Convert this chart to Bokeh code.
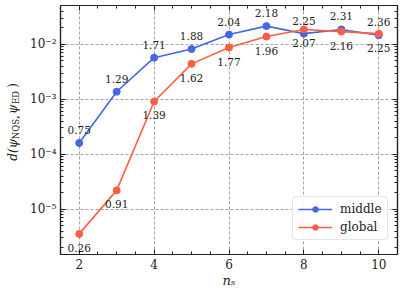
import math
from bokeh.plotting import figure
from bokeh.layouts import row
from bokeh.models import (FixedTicker, CustomJSTickFormatter, LinearAxis, LogAxis,
                          Legend, LegendItem, Range1d)
from bokeh.embed import file_html
from bokeh.resources import INLINE
from bokeh.core.properties import value

# ---------------- data ----------------
n_s = [2, 3, 4, 5, 6, 7, 8, 9, 10]
middle_d = [1.6e-4, 1.37e-3, 5.7e-3, 8.2e-3, 1.50e-2, 2.14e-2, 1.56e-2, 1.86e-2, 1.46e-2]
global_d = [3.56e-6, 2.2e-5, 9.1e-4, 4.4e-3, 8.7e-3, 1.38e-2, 1.86e-2, 1.70e-2, 1.56e-2]
middle_labels = ["0.75", "1.29", "1.71", "1.88", "2.04", "2.18", "2.25", "2.31", "2.36"]
global_labels = ["0.26", "0.91", "1.39", "1.62", "1.77", "1.96", "2.07", "2.16", "2.25"]
x_major = [2, 4, 6, 8, 10]
x_minor = [1.5 + 0.5 * i for i in range(19)]
y_major = [1e-5, 1e-4, 1e-3, 1e-2]
y_minor = [k * 10.0 ** e for e in range(-6, -1) for k in range(2, 10)]

# y-axis title pieces
ylab_text = ["d(\u03c8", "NQS", ",", "\u03c8", "ED", ")"]
ylab_size = ["12px", "8.5px", "12px", "12px", "8.5px", "12px"]
ylab_style = ["italic", "normal", "normal", "italic", "normal", "normal"]
ylab_sub = [False, True, False, False, True, False]

BLUE = "#4169E1"
RED = "#FF5E44"
FONT = "DejaVu Serif"
INK = "#222222"

# ---------------- y title strip ----------------
LW = 20
lab_fig = figure(width=LW, height=290, x_range=Range1d(0, LW), y_range=Range1d(290, 0),
                 output_backend="svg", toolbar_location=None,
                 min_border=0, outline_line_color=None)
lab_fig.axis.visible = False
lab_fig.grid.visible = False
centers = [168, 144, 130, 121, 107, 93]   # pixel rows of each piece's centre
for t, s, st, sub, yc in zip(ylab_text, ylab_size, ylab_style, ylab_sub, centers):
    lab_fig.text(x=[15 if sub else 12], y=[yc], text=[t], angle=math.pi / 2,
                 text_font=value(FONT), text_font_size=s, text_font_style=st,
                 text_align="center", text_baseline="middle", text_color=INK)

# ---------------- main plot ----------------
p = figure(width=399 - LW, height=290, y_axis_type="log",
           x_range=Range1d(1.5, 10.5), y_range=Range1d(1.501e-6, 5.07e-2),
           output_backend="svg", toolbar_location=None,
           min_border_left=60 - LW, min_border_right=2, min_border_top=5, min_border_bottom=35)
p.background_fill_color = "white"
p.border_fill_color = "white"
p.outline_line_color = INK
p.outline_line_width = 1.2

sup_fmt = CustomJSTickFormatter(code="""
const e = Math.round(Math.log10(tick));
const sup = {'-':'\u207b','0':'\u2070','1':'\u00b9','2':'\u00b2','3':'\u00b3','4':'\u2074','5':'\u2075','6':'\u2076','7':'\u2077','8':'\u2078','9':'\u2079'};
return '10' + String(e).split('').map(c => sup[c]).join('');
""")
blank_fmt = CustomJSTickFormatter(code="return '';")

def style_axis(ax, labels=True):
    ax.axis_line_color = INK
    ax.axis_line_width = 1.2
    ax.major_tick_in = 5
    ax.major_tick_out = 0
    ax.minor_tick_in = 3
    ax.minor_tick_out = 0
    ax.major_tick_line_color = INK
    ax.minor_tick_line_color = INK
    ax.major_label_text_font = FONT
    ax.major_label_text_font_size = "12px" if labels else "0px"
    ax.major_label_text_color = INK
    ax.major_label_standoff = 5 if labels else 0

xt = FixedTicker(ticks=x_major, minor_ticks=x_minor)
yt = FixedTicker(ticks=y_major, minor_ticks=y_minor)

p.xaxis.ticker = xt
p.yaxis.ticker = yt
p.yaxis.formatter = sup_fmt
style_axis(p.xaxis[0])
style_axis(p.yaxis[0])
p.yaxis.major_label_standoff = 4
p.xaxis.major_label_standoff = 4
p.xaxis.axis_label = "n\u209b"
p.xaxis.axis_label_text_font = FONT
p.xaxis.axis_label_text_font_style = "italic"
p.xaxis.axis_label_text_font_size = "13px"
p.xaxis.axis_label_text_color = INK
p.xaxis.axis_label_standoff = 1

top_ax = LinearAxis(ticker=xt, formatter=blank_fmt)
right_ax = LogAxis(ticker=yt, formatter=blank_fmt)
style_axis(top_ax, labels=False)
style_axis(right_ax, labels=False)
p.add_layout(top_ax, "above")
p.add_layout(right_ax, "right")

for g in (p.xgrid[0], p.ygrid[0]):
    g.grid_line_color = "#8a8a8a"
    g.grid_line_dash = "3 2"
    g.grid_line_width = 0.8
p.xgrid.ticker = xt
p.ygrid.ticker = yt

# ---------------- series ----------------
l1 = p.line(n_s, middle_d, line_color=BLUE, line_width=1.6)
c1 = p.scatter(n_s, middle_d, size=7, fill_color=BLUE, line_color=BLUE)
l2 = p.line(n_s, global_d, line_color=RED, line_width=1.6)
c2 = p.scatter(n_s, global_d, size=7, fill_color=RED, line_color=RED)

p.text(n_s, middle_d, text=middle_labels, text_font=value(FONT), text_font_size="10.5px",
       text_align="center", text_baseline="middle", y_offset=-13, text_color=INK)
p.text(n_s, global_d, text=global_labels, text_font=value(FONT), text_font_size="10.5px",
       text_align="center", text_baseline="middle", y_offset=14, text_color=INK)

legend = Legend(items=[LegendItem(label="middle", renderers=[l1, c1]),
                       LegendItem(label="global", renderers=[l2, c2])],
                location=(232, 14))
legend.label_text_font = FONT
legend.label_text_font_size = "12px"
legend.label_text_color = INK
legend.glyph_width = 34
legend.glyph_height = 14
legend.label_height = 14
legend.label_standoff = 8
legend.padding = 5
legend.spacing = 4
legend.border_line_color = "#cccccc"
legend.border_line_width = 1.2
legend.background_fill_alpha = 0.9
if "border_radius" in Legend.properties():
    legend.border_radius = 4
p.add_layout(legend)

layout = row(lab_fig, p)
open("out.html", "w").write(file_html(layout, INLINE))
